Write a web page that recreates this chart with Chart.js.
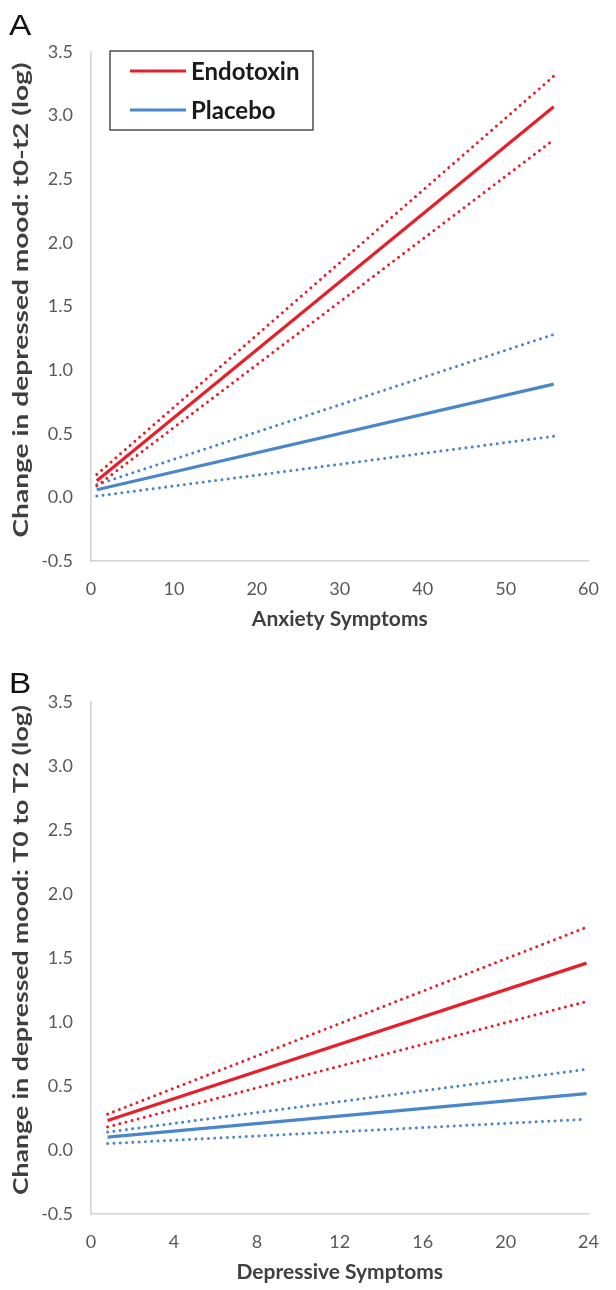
<!DOCTYPE html>
<html>
<head>
<meta charset="utf-8">
<script src="https://cdn.jsdelivr.net/npm/chart.js@4.4.1/dist/chart.umd.min.js"></script>
<style>
  html, body { margin: 0; padding: 0; background: #ffffff; }
  body { width: 616px; height: 1290px; position: relative; overflow: hidden; }
  canvas { position: absolute; left: 0; }
  #cA { top: 0; }
  #cB { top: 645px; }
</style>
</head>
<body>
<canvas id="cA" width="616" height="645"></canvas>
<canvas id="cB" width="616" height="645"></canvas>
<script>
// ---------- DATA ----------
// Panel A: x = Anxiety Symptoms (line endpoints)
const anxietyX = [0.7, 55.8];
const endoA      = [0.13, 3.07];
const endoAUpper = [0.18, 3.31];
const endoALower = [0.09, 2.81];
const placA      = [0.06, 0.89];
const placAUpper = [0.10, 1.28];
const placALower = [0.01, 0.48];

// Panel B: x = Depressive Symptoms (line endpoints)
const depressiveX = [0.8, 23.9];
const endoB      = [0.23, 1.46];
const endoBUpper = [0.28, 1.74];
const endoBLower = [0.18, 1.16];
const placB      = [0.10, 0.44];
const placBUpper = [0.14, 0.63];
const placBLower = [0.05, 0.24];

const yTicks = [-0.5, 0, 0.5, 1, 1.5, 2, 2.5, 3, 3.5];
const xTicksA = [0, 10, 20, 30, 40, 50, 60];
const xTicksB = [0, 4, 8, 12, 16, 20, 24];
const seriesNames = ['Endotoxin', 'Placebo'];

// ---------- STYLE ----------
const RED = '#E5202A';
const BLUE = '#4A87C9';
const AXIS = '#D4D4D4';
const TICK = '#595959';
const TITLE = '#3F3F3F';
const FONT = 'Lato, "Open Sans", sans-serif';

function pts(xs, ys) { return xs.map((x, i) => ({ x: x, y: ys[i] })); }

function ds(label, xs, ys, color, dotted, legend) {
  return {
    label: label,
    data: pts(xs, ys),
    borderColor: color,
    backgroundColor: color,
    borderWidth: dotted ? 3 : 3.2,
    borderDash: dotted ? [0.01, 6.3] : [],
    borderCapStyle: dotted ? 'round' : 'butt',
    pointRadius: 0,
    fill: false,
    tension: 0,
    showInLegend: legend
  };
}

const legendBox = {
  id: 'legendBox',
  afterDatasetsDraw(chart, args, opts) {
    if (!opts.show) return;
    const ctx = chart.ctx;
    ctx.save();
    ctx.strokeStyle = '#222222';
    ctx.lineWidth = 1.2;
    ctx.strokeRect(opts.x, opts.y, opts.w, opts.h);
    const items = chart.data.datasets.filter(d => d.showInLegend);
    items.forEach((d, i) => {
      const yy = opts.y + opts.firstRow + i * opts.rowGap;
      ctx.strokeStyle = d.borderColor;
      ctx.lineWidth = 3.2;
      ctx.beginPath();
      ctx.moveTo(opts.x + 20, yy);
      ctx.lineTo(opts.x + 76, yy);
      ctx.stroke();
      ctx.fillStyle = '#1a1a1a';
      ctx.font = 'bold 24px ' + FONT;
      ctx.textBaseline = 'middle';
      ctx.textAlign = 'left';
      ctx.fillText(d.label, opts.x + 81, yy + 1);
    });
    ctx.restore();
  }
};

// y-axis title drawn rotated and stretched along its length, as in the reference
const yTitle = {
  id: 'yTitle',
  afterDraw(chart, args, opts) {
    const ctx = chart.ctx;
    ctx.save();
    ctx.font = 'bold 21px ' + FONT;
    const w = ctx.measureText(opts.text).width;
    const sx = opts.length / w;
    ctx.translate(opts.x, opts.cy);
    ctx.rotate(-Math.PI / 2);
    ctx.scale(sx, 1);
    ctx.fillStyle = TITLE;
    ctx.textAlign = 'center';
    ctx.textBaseline = 'middle';
    ctx.fillText(opts.text, 0, 0);
    ctx.restore();
  }
};

const panelLetter = {
  id: 'panelLetter',
  afterDraw(chart, args, opts) {
    const ctx = chart.ctx;
    ctx.save();
    ctx.fillStyle = '#111111';
    ctx.font = '29px "Liberation Sans", Arial, sans-serif';
    ctx.textBaseline = 'alphabetic';
    ctx.textAlign = 'left';
    ctx.translate(opts.x, opts.y);
    ctx.scale(1.15, 1);
    ctx.fillText(opts.text, 0, 0);
    ctx.restore();
  }
};

function makeChart(id, cfg) {
  return new Chart(document.getElementById(id), {
    type: 'line',
    data: { datasets: cfg.datasets },
    plugins: [legendBox, yTitle, panelLetter],
    options: {
      responsive: false,
      animation: false,
      events: [],
      layout: { padding: { left: 0, right: 14, top: cfg.top, bottom: 0 } },
      plugins: {
        legend: { display: false },
        tooltip: { enabled: false },
        legendBox: cfg.legend,
        yTitle: cfg.yTitle,
        panelLetter: cfg.letter
      },
      scales: {
        x: {
          type: 'linear',
          min: cfg.xTicks[0],
          max: cfg.xTicks[cfg.xTicks.length - 1],
          afterBuildTicks: (s) => { s.ticks = cfg.xTicks.map(v => ({ value: v })); },
          afterFit: (s) => { s.height = cfg.xHeight; },
          grid: { display: false, drawTicks: false },
          border: { display: true, color: AXIS, width: 1.6 },
          ticks: { color: TICK, font: { family: FONT, size: 18 }, padding: 17, maxRotation: 0, autoSkip: false,
                   callback: (v) => String(v) },
          title: { display: true, text: cfg.xTitle, color: TITLE,
                   font: { family: FONT, size: 21, weight: 'bold' },
                   padding: { top: 0, bottom: cfg.xTitlePad } }
        },
        y: {
          type: 'linear',
          min: yTicks[0],
          max: yTicks[yTicks.length - 1],
          afterBuildTicks: (s) => { s.ticks = yTicks.map(v => ({ value: v })); },
          afterFit: (s) => { s.width = 91; },
          grid: { display: false, drawTicks: false },
          border: { display: true, color: AXIS, width: 1.6 },
          ticks: { color: TICK, font: { family: FONT, size: 18 }, padding: 18, autoSkip: false,
                   callback: (v) => Number(v).toFixed(1) },
          title: { display: false }
        }
      }
    }
  });
}

makeChart('cA', {
  top: 52,
  xHeight: 84,
  xTitlePad: 13,
  xTicks: xTicksA,
  xTitle: 'Anxiety Symptoms',
  yTitle: { text: 'Change in depressed mood: t0-t2 (log)', x: 21, cy: 300, length: 475 },
  legend: { show: true, x: 110, y: 51, w: 203, h: 79, firstRow: 20, rowGap: 39 },
  letter: { text: 'A', x: 9, y: 35 },
  datasets: [
    ds(seriesNames[0], anxietyX, endoA, RED, false, true),
    ds('Endotoxin upper CI', anxietyX, endoAUpper, RED, true, false),
    ds('Endotoxin lower CI', anxietyX, endoALower, RED, true, false),
    ds(seriesNames[1], anxietyX, placA, BLUE, false, true),
    ds('Placebo upper CI', anxietyX, placAUpper, BLUE, true, false),
    ds('Placebo lower CI', anxietyX, placALower, BLUE, true, false)
  ]
});

makeChart('cB', {
  top: 57,
  xHeight: 76,
  xTitlePad: 5,
  xTicks: xTicksB,
  xTitle: 'Depressive Symptoms',
  yTitle: { text: 'Change in depressed mood: T0 to T2 (log)', x: 21, cy: 305, length: 490 },
  legend: { show: false },
  letter: { text: 'B', x: 9, y: 48 },
  datasets: [
    ds(seriesNames[0], depressiveX, endoB, RED, false, false),
    ds('Endotoxin upper CI', depressiveX, endoBUpper, RED, true, false),
    ds('Endotoxin lower CI', depressiveX, endoBLower, RED, true, false),
    ds(seriesNames[1], depressiveX, placB, BLUE, false, false),
    ds('Placebo upper CI', depressiveX, placBUpper, BLUE, true, false),
    ds('Placebo lower CI', depressiveX, placBLower, BLUE, true, false)
  ]
});
</script>
</body>
</html>
